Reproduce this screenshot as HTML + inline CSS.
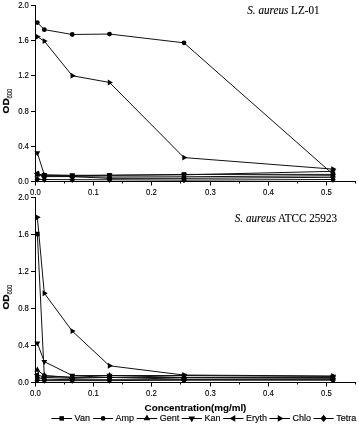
<!DOCTYPE html>
<html><head><meta charset="utf-8"><style>
html,body{margin:0;padding:0;background:#fff;width:359px;height:425px;overflow:hidden}
svg{display:block;will-change:transform}
text{font-family:"Liberation Sans",sans-serif;fill:#000;stroke:#000;stroke-width:0.22px}
.tk{font-size:8px;stroke-width:0.12px}
.ttl{font-family:"Liberation Serif",serif;font-size:11.15px;stroke-width:0.1px}
.ylab{font-size:9.2px;font-weight:bold}
.sub{font-size:6.8px;stroke-width:0.1px}
.xlab{font-size:9.8px;font-weight:bold;stroke-width:0.1px}
.lg{font-size:9px;stroke-width:0.14px}
</style></head><body>
<svg width="359" height="425" viewBox="0 0 359 425">
<rect width="359" height="425" fill="#fff"/>
<polyline points="37.33,179.24 44.31,179.50 72.25,179.68 109.50,179.77 183.99,180.12 332.98,179.50" fill="none" stroke="#111" stroke-width="1"/>
<polyline points="37.33,173.52 44.31,176.60 72.25,176.60 109.50,178.36 183.99,178.36 332.98,177.30" fill="none" stroke="#111" stroke-width="1"/>
<polyline points="37.33,174.84 44.31,175.72 72.25,176.60 109.50,177.04 183.99,176.78 332.98,175.72" fill="none" stroke="#111" stroke-width="1"/>
<polyline points="37.33,173.96 44.31,175.28 72.25,175.72 109.50,175.28 183.99,174.40 332.98,174.40" fill="none" stroke="#111" stroke-width="1"/>
<polyline points="37.33,152.84 44.31,174.84 72.25,175.28 109.50,175.28 183.99,174.84 332.98,171.32" fill="none" stroke="#111" stroke-width="1"/>
<polyline points="37.33,22.60 44.31,29.64 72.25,34.48 109.50,34.04 183.99,42.84 332.98,174.22" fill="none" stroke="#111" stroke-width="1"/>
<polyline points="37.33,36.68 44.31,41.08 72.25,75.75 109.50,82.44 183.99,157.59 332.98,169.12" fill="none" stroke="#111" stroke-width="1"/>
<path d="M37.33,176.04L40.13,179.24L37.33,182.44L34.53,179.24Z"/>
<path d="M44.31,176.30L47.11,179.50L44.31,182.70L41.51,179.50Z"/>
<path d="M72.25,176.48L75.05,179.68L72.25,182.88L69.45,179.68Z"/>
<path d="M109.50,176.57L112.30,179.77L109.50,182.97L106.70,179.77Z"/>
<path d="M183.99,176.92L186.79,180.12L183.99,183.32L181.19,180.12Z"/>
<path d="M332.98,176.30L335.78,179.50L332.98,182.70L330.18,179.50Z"/>
<path d="M33.93,173.52L39.03,170.57L39.03,176.47Z"/>
<path d="M40.91,176.60L46.01,173.65L46.01,179.55Z"/>
<path d="M68.85,176.60L73.95,173.65L73.95,179.55Z"/>
<path d="M106.10,178.36L111.20,175.41L111.20,181.31Z"/>
<path d="M180.59,178.36L185.69,175.41L185.69,181.31Z"/>
<path d="M329.58,177.30L334.68,174.35L334.68,180.25Z"/>
<path d="M37.33,171.44L40.28,176.54L34.38,176.54Z"/>
<path d="M44.31,172.32L47.26,177.42L41.36,177.42Z"/>
<path d="M72.25,173.20L75.20,178.30L69.30,178.30Z"/>
<path d="M109.50,173.64L112.45,178.74L106.55,178.74Z"/>
<path d="M183.99,173.38L186.94,178.48L181.04,178.48Z"/>
<path d="M332.98,172.32L335.93,177.42L330.03,177.42Z"/>
<rect x="35.08" y="171.71" width="4.50" height="4.50"/>
<rect x="42.06" y="173.03" width="4.50" height="4.50"/>
<rect x="70.00" y="173.47" width="4.50" height="4.50"/>
<rect x="107.25" y="173.03" width="4.50" height="4.50"/>
<rect x="181.74" y="172.15" width="4.50" height="4.50"/>
<rect x="330.73" y="172.15" width="4.50" height="4.50"/>
<path d="M37.33,156.24L40.28,151.14L34.38,151.14Z"/>
<path d="M44.31,178.24L47.26,173.14L41.36,173.14Z"/>
<path d="M72.25,178.68L75.20,173.58L69.30,173.58Z"/>
<path d="M109.50,178.68L112.45,173.58L106.55,173.58Z"/>
<path d="M183.99,178.24L186.94,173.14L181.04,173.14Z"/>
<path d="M332.98,174.72L335.93,169.62L330.03,169.62Z"/>
<circle cx="37.33" cy="22.60" r="2.40"/>
<circle cx="44.31" cy="29.64" r="2.40"/>
<circle cx="72.25" cy="34.48" r="2.40"/>
<circle cx="109.50" cy="34.04" r="2.40"/>
<circle cx="183.99" cy="42.84" r="2.40"/>
<circle cx="332.98" cy="174.22" r="2.40"/>
<path d="M40.73,36.68L35.63,33.73L35.63,39.63Z"/>
<path d="M47.71,41.08L42.61,38.13L42.61,44.03Z"/>
<path d="M75.65,75.75L70.55,72.80L70.55,78.70Z"/>
<path d="M112.90,82.44L107.80,79.49L107.80,85.39Z"/>
<path d="M187.39,157.59L182.29,154.64L182.29,160.54Z"/>
<path d="M336.38,169.12L331.28,166.17L331.28,172.07Z"/>
<path d="M35.5,5.0 V181.5 H355.6" fill="none" stroke="#000" stroke-width="1"/>
<path d="M31.0,181.5 H35.5" stroke="#000" stroke-width="1"/>
<text transform="translate(28.90,184.00) scale(0.97,1.17)" class="tk" text-anchor="end">0.0</text>
<path d="M31.0,146.5 H35.5" stroke="#000" stroke-width="1"/>
<text transform="translate(28.90,149.00) scale(0.97,1.17)" class="tk" text-anchor="end">0.4</text>
<path d="M31.0,111.5 H35.5" stroke="#000" stroke-width="1"/>
<text transform="translate(28.90,114.00) scale(0.97,1.17)" class="tk" text-anchor="end">0.8</text>
<path d="M31.0,75.5 H35.5" stroke="#000" stroke-width="1"/>
<text transform="translate(28.90,78.00) scale(0.97,1.17)" class="tk" text-anchor="end">1.2</text>
<path d="M31.0,40.5 H35.5" stroke="#000" stroke-width="1"/>
<text transform="translate(28.90,43.00) scale(0.97,1.17)" class="tk" text-anchor="end">1.6</text>
<path d="M31.0,5.5 H35.5" stroke="#000" stroke-width="1"/>
<text transform="translate(28.90,8.00) scale(0.97,1.17)" class="tk" text-anchor="end">2.0</text>
<path d="M35.5,181.0 V185.5" stroke="#000" stroke-width="1"/>
<text transform="translate(35.50,194.50) scale(0.97,1.17)" class="tk" text-anchor="middle">0.0</text>
<path d="M64.5,181.0 V183.5" stroke="#000" stroke-width="1"/>
<path d="M93.5,181.0 V185.5" stroke="#000" stroke-width="1"/>
<text transform="translate(93.50,194.50) scale(0.97,1.17)" class="tk" text-anchor="middle">0.1</text>
<path d="M122.5,181.0 V183.5" stroke="#000" stroke-width="1"/>
<path d="M151.5,181.0 V185.5" stroke="#000" stroke-width="1"/>
<text transform="translate(151.50,194.50) scale(0.97,1.17)" class="tk" text-anchor="middle">0.2</text>
<path d="M180.5,181.0 V183.5" stroke="#000" stroke-width="1"/>
<path d="M210.5,181.0 V185.5" stroke="#000" stroke-width="1"/>
<text transform="translate(210.50,194.50) scale(0.97,1.17)" class="tk" text-anchor="middle">0.3</text>
<path d="M239.5,181.0 V183.5" stroke="#000" stroke-width="1"/>
<path d="M268.5,181.0 V185.5" stroke="#000" stroke-width="1"/>
<text transform="translate(268.50,194.50) scale(0.97,1.17)" class="tk" text-anchor="middle">0.4</text>
<path d="M297.5,181.0 V183.5" stroke="#000" stroke-width="1"/>
<path d="M326.5,181.0 V185.5" stroke="#000" stroke-width="1"/>
<text transform="translate(326.50,194.50) scale(0.97,1.17)" class="tk" text-anchor="middle">0.5</text>
<path d="M355.5,181.0 V183.5" stroke="#000" stroke-width="1"/>
<text transform="translate(247.3,14.0) scale(1,1.06)" class="ttl"><tspan font-style="italic">S. aureus</tspan> LZ-01</text>
<text transform="translate(8.6,113.4) rotate(-90) scale(1.1,1)" class="ylab">OD</text>
<text transform="translate(12.3,98.4) rotate(-90) scale(0.86,1)" class="sub">600</text>
<polyline points="37.33,380.15 44.31,380.61 72.25,380.61 109.50,380.61 183.99,380.15 332.98,380.15" fill="none" stroke="#111" stroke-width="1"/>
<polyline points="37.33,374.60 44.31,377.38 72.25,378.30 109.50,377.38 183.99,379.23 332.98,378.76" fill="none" stroke="#111" stroke-width="1"/>
<polyline points="37.33,369.98 44.31,375.52 72.25,377.38 109.50,375.52 183.99,377.38 332.98,377.38" fill="none" stroke="#111" stroke-width="1"/>
<polyline points="37.33,234.00 44.31,375.99 72.25,377.38 109.50,377.38 183.99,377.56 332.98,377.84" fill="none" stroke="#111" stroke-width="1"/>
<polyline points="37.33,343.15 44.31,361.65 72.25,375.52 109.50,375.52 183.99,375.52 332.98,376.45" fill="none" stroke="#111" stroke-width="1"/>
<polyline points="37.33,377.38 44.31,379.23 72.25,379.69 109.50,379.69 183.99,379.69 332.98,379.69" fill="none" stroke="#111" stroke-width="1"/>
<polyline points="37.33,217.35 44.31,293.20 72.25,331.12 109.50,365.81 183.99,375.06 332.98,375.99" fill="none" stroke="#111" stroke-width="1"/>
<path d="M37.33,376.95L40.13,380.15L37.33,383.35L34.53,380.15Z"/>
<path d="M44.31,377.41L47.11,380.61L44.31,383.81L41.51,380.61Z"/>
<path d="M72.25,377.41L75.05,380.61L72.25,383.81L69.45,380.61Z"/>
<path d="M109.50,377.41L112.30,380.61L109.50,383.81L106.70,380.61Z"/>
<path d="M183.99,376.95L186.79,380.15L183.99,383.35L181.19,380.15Z"/>
<path d="M332.98,376.95L335.78,380.15L332.98,383.35L330.18,380.15Z"/>
<path d="M33.93,374.60L39.03,371.65L39.03,377.55Z"/>
<path d="M40.91,377.38L46.01,374.43L46.01,380.32Z"/>
<path d="M68.85,378.30L73.95,375.35L73.95,381.25Z"/>
<path d="M106.10,377.38L111.20,374.43L111.20,380.32Z"/>
<path d="M180.59,379.23L185.69,376.28L185.69,382.18Z"/>
<path d="M329.58,378.76L334.68,375.81L334.68,381.71Z"/>
<path d="M37.33,366.58L40.28,371.68L34.38,371.68Z"/>
<path d="M44.31,372.12L47.26,377.22L41.36,377.22Z"/>
<path d="M72.25,373.98L75.20,379.07L69.30,379.07Z"/>
<path d="M109.50,372.12L112.45,377.22L106.55,377.22Z"/>
<path d="M183.99,373.98L186.94,379.07L181.04,379.07Z"/>
<path d="M332.98,373.98L335.93,379.07L330.03,379.07Z"/>
<rect x="35.08" y="231.75" width="4.50" height="4.50"/>
<rect x="42.06" y="373.74" width="4.50" height="4.50"/>
<rect x="70.00" y="375.12" width="4.50" height="4.50"/>
<rect x="107.25" y="375.12" width="4.50" height="4.50"/>
<rect x="181.74" y="375.31" width="4.50" height="4.50"/>
<rect x="330.73" y="375.59" width="4.50" height="4.50"/>
<path d="M37.33,346.55L40.28,341.45L34.38,341.45Z"/>
<path d="M44.31,365.05L47.26,359.95L41.36,359.95Z"/>
<path d="M72.25,378.92L75.20,373.82L69.30,373.82Z"/>
<path d="M109.50,378.92L112.45,373.82L106.55,373.82Z"/>
<path d="M183.99,378.92L186.94,373.82L181.04,373.82Z"/>
<path d="M332.98,379.85L335.93,374.75L330.03,374.75Z"/>
<circle cx="37.33" cy="377.38" r="2.40"/>
<circle cx="44.31" cy="379.23" r="2.40"/>
<circle cx="72.25" cy="379.69" r="2.40"/>
<circle cx="109.50" cy="379.69" r="2.40"/>
<circle cx="183.99" cy="379.69" r="2.40"/>
<circle cx="332.98" cy="379.69" r="2.40"/>
<path d="M40.73,217.35L35.63,214.40L35.63,220.30Z"/>
<path d="M47.71,293.20L42.61,290.25L42.61,296.15Z"/>
<path d="M75.65,331.12L70.55,328.18L70.55,334.07Z"/>
<path d="M112.90,365.81L107.80,362.86L107.80,368.76Z"/>
<path d="M187.39,375.06L182.29,372.11L182.29,378.01Z"/>
<path d="M336.38,375.99L331.28,373.04L331.28,378.94Z"/>
<path d="M35.5,197.0 V382.5 H355.6" fill="none" stroke="#000" stroke-width="1"/>
<path d="M31.0,382.5 H35.5" stroke="#000" stroke-width="1"/>
<text transform="translate(28.90,385.00) scale(0.97,1.17)" class="tk" text-anchor="end">0.0</text>
<path d="M31.0,345.5 H35.5" stroke="#000" stroke-width="1"/>
<text transform="translate(28.90,348.00) scale(0.97,1.17)" class="tk" text-anchor="end">0.4</text>
<path d="M31.0,308.5 H35.5" stroke="#000" stroke-width="1"/>
<text transform="translate(28.90,311.00) scale(0.97,1.17)" class="tk" text-anchor="end">0.8</text>
<path d="M31.0,271.5 H35.5" stroke="#000" stroke-width="1"/>
<text transform="translate(28.90,274.00) scale(0.97,1.17)" class="tk" text-anchor="end">1.2</text>
<path d="M31.0,234.5 H35.5" stroke="#000" stroke-width="1"/>
<text transform="translate(28.90,237.00) scale(0.97,1.17)" class="tk" text-anchor="end">1.6</text>
<path d="M31.0,197.5 H35.5" stroke="#000" stroke-width="1"/>
<text transform="translate(28.90,200.00) scale(0.97,1.17)" class="tk" text-anchor="end">2.0</text>
<path d="M35.5,382.0 V386.5" stroke="#000" stroke-width="1"/>
<text transform="translate(35.50,395.50) scale(0.97,1.17)" class="tk" text-anchor="middle">0.0</text>
<path d="M64.5,382.0 V384.5" stroke="#000" stroke-width="1"/>
<path d="M93.5,382.0 V386.5" stroke="#000" stroke-width="1"/>
<text transform="translate(93.50,395.50) scale(0.97,1.17)" class="tk" text-anchor="middle">0.1</text>
<path d="M122.5,382.0 V384.5" stroke="#000" stroke-width="1"/>
<path d="M151.5,382.0 V386.5" stroke="#000" stroke-width="1"/>
<text transform="translate(151.50,395.50) scale(0.97,1.17)" class="tk" text-anchor="middle">0.2</text>
<path d="M180.5,382.0 V384.5" stroke="#000" stroke-width="1"/>
<path d="M210.5,382.0 V386.5" stroke="#000" stroke-width="1"/>
<text transform="translate(210.50,395.50) scale(0.97,1.17)" class="tk" text-anchor="middle">0.3</text>
<path d="M239.5,382.0 V384.5" stroke="#000" stroke-width="1"/>
<path d="M268.5,382.0 V386.5" stroke="#000" stroke-width="1"/>
<text transform="translate(268.50,395.50) scale(0.97,1.17)" class="tk" text-anchor="middle">0.4</text>
<path d="M297.5,382.0 V384.5" stroke="#000" stroke-width="1"/>
<path d="M326.5,382.0 V386.5" stroke="#000" stroke-width="1"/>
<text transform="translate(326.50,395.50) scale(0.97,1.17)" class="tk" text-anchor="middle">0.5</text>
<path d="M355.5,382.0 V384.5" stroke="#000" stroke-width="1"/>
<text transform="translate(234.8,222.0) scale(1,1.06)" class="ttl"><tspan font-style="italic">S. aureus</tspan> ATCC 25923</text>
<text transform="translate(8.6,309.6) rotate(-90) scale(1.1,1)" class="ylab">OD</text>
<text transform="translate(12.3,294.6) rotate(-90) scale(0.86,1)" class="sub">600</text>
<text x="195.5" y="411.4" class="xlab" text-anchor="middle">Concentration(mg/ml)</text>
<path d="M51.35,418.5 H72.0" stroke="#000" stroke-width="1"/>
<rect x="59.42" y="416.15" width="4.50" height="4.50"/>
<text x="74.60" y="421.1" class="lg">Van</text>
<path d="M93.2,418.5 H113.0" stroke="#000" stroke-width="1"/>
<circle cx="103.10" cy="418.40" r="2.40"/>
<text x="115.60" y="421.1" class="lg">Amp</text>
<path d="M136.7,418.5 H157.2" stroke="#000" stroke-width="1"/>
<path d="M146.95,414.59L150.25,420.30L143.65,420.30Z"/>
<text x="159.80" y="421.1" class="lg">Gent</text>
<path d="M181.7,418.5 H201.9" stroke="#000" stroke-width="1"/>
<path d="M191.80,422.21L195.10,416.50L188.50,416.50Z"/>
<text x="204.50" y="421.1" class="lg">Kan</text>
<path d="M223.2,418.5 H243.5" stroke="#000" stroke-width="1"/>
<path d="M229.54,418.40L235.25,415.10L235.25,421.70Z"/>
<text x="246.10" y="421.1" class="lg">Eryth</text>
<path d="M269.4,418.5 H289.9" stroke="#000" stroke-width="1"/>
<path d="M283.46,418.40L277.75,415.10L277.75,421.70Z"/>
<text x="292.50" y="421.1" class="lg">Chlo</text>
<path d="M313.5,418.5 H333.7" stroke="#000" stroke-width="1"/>
<path d="M323.60,414.82L326.74,418.40L323.60,421.98L320.46,418.40Z"/>
<text x="336.30" y="421.1" class="lg">Tetra</text>
</svg>
</body></html>
